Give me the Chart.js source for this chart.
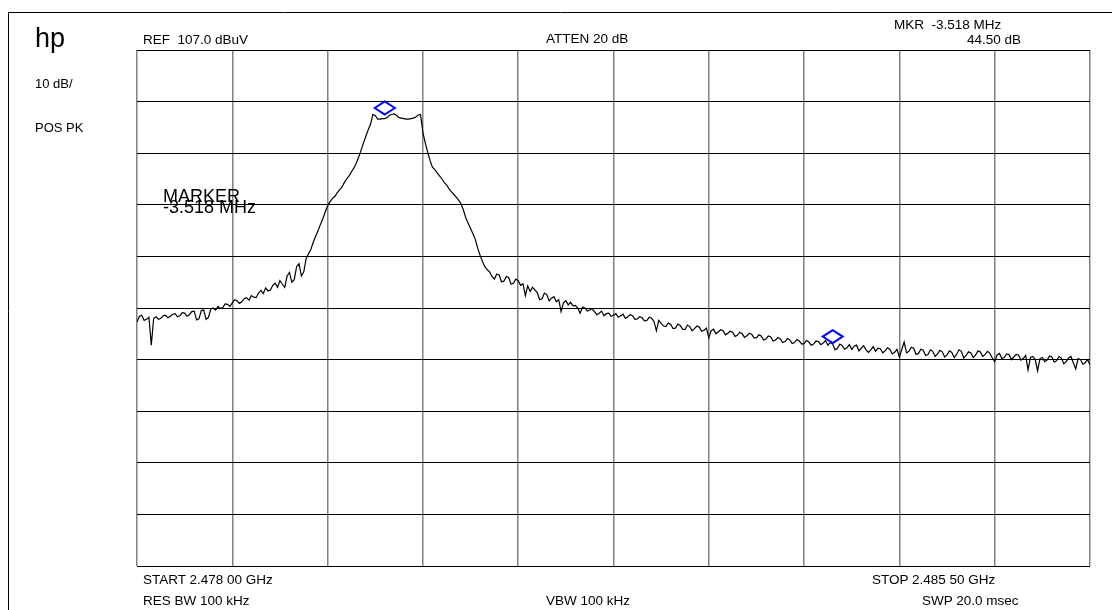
<!DOCTYPE html>
<html>
<head>
<meta charset="utf-8">
<script src="https://cdn.jsdelivr.net/npm/chart.js@4.4.1/dist/chart.umd.min.js"></script>
<style>
    body { margin: 0; background: #fff; }
    #wrap { position: relative; width: 1112px; height: 610px; overflow: hidden; }
    #wrap canvas { position: absolute; left: 0; top: 0; }
    .lbl { position: absolute; font-family: "Liberation Sans", Arial, sans-serif; color: #000; white-space: pre; line-height: 1; }
</style>
</head>
<body>
<div id="wrap">
    <canvas id="spectrum" width="1112" height="610"></canvas>
</div>
<script>
// sweep: 401 trace points from START to STOP, levels in dBuV
const sweepLabels = ['START 2.478 00 GHz', 'STOP 2.485 50 GHz'];
const traceDbuV = [
    // div 1
    54.3, 55.4, 55.6, 54.6, 54.8, 55.2, 49.8, 55.0, 55.3, 54.8,
    55.0, 55.5, 55.6, 55.1, 55.4, 55.8, 55.9, 55.3, 55.5, 56.1,
    56.0, 55.4, 55.7, 56.3, 56.4, 54.7, 54.9, 56.5, 56.6, 54.8,
    55.2, 56.8, 57.0, 56.6, 57.3, 56.9, 57.1, 57.8, 57.7, 57.3,
    // div 2
    58.0, 58.6, 58.4, 57.9, 58.2, 58.8, 59.0, 58.5, 59.4, 59.1,
    59.0, 59.9, 60.4, 59.8, 60.9, 60.3, 60.5, 61.4, 61.8, 61.0,
    62.3, 61.6, 61.0, 63.2, 63.9, 62.0, 62.5, 65.0, 65.6, 63.2,
    64.0, 66.6, 67.5, 68.4, 69.8, 70.9, 72.0, 73.2, 74.3, 75.6,
    // div 3
    76.8, 77.6, 78.2, 78.6, 79.3, 79.9, 80.4, 81.3, 82.0, 82.6,
    83.4, 84.1, 85.0, 86.2, 87.5, 88.9, 90.2, 91.5, 92.6, 94.5,
    94.3, 93.6, 93.6, 93.7, 93.7, 93.9, 94.4, 94.5, 94.6, 94.3,
    93.9, 93.8, 93.7, 93.6, 93.6, 93.7, 93.8, 94.0, 94.4, 94.5,
    // div 4
    91.0, 89.0, 87.2, 85.6, 84.3, 83.8, 83.2, 82.6, 82.0, 81.3,
    80.8, 80.1, 79.5, 79.0, 78.5, 77.9, 77.2, 76.0, 74.5, 73.4,
    72.4, 71.4, 70.3, 68.6, 67.2, 66.0, 65.0, 64.4, 64.0, 63.1,
    62.6, 63.6, 63.4, 62.1, 62.2, 63.1, 62.9, 61.6, 61.8, 62.6,
    // div 5
    62.3, 61.4, 61.7, 59.4, 61.3, 60.2, 61.0, 60.5, 60.0, 58.6,
    58.8, 59.9, 59.6, 58.4, 58.9, 59.2, 58.2, 58.6, 56.3, 58.0,
    58.4, 57.6, 58.1, 57.4, 57.5, 57.0, 56.0, 57.2, 57.0, 56.4,
    56.6, 56.9, 56.3, 55.7, 56.0, 56.4, 55.5, 55.9, 56.0, 55.4,
    // div 6
    55.6, 55.9, 55.2, 55.5, 55.8, 55.0, 55.3, 55.7, 55.5, 54.8,
    54.9, 55.3, 55.1, 54.5, 54.6, 55.2, 55.0, 54.4, 52.6, 54.6,
    54.0, 53.5, 53.4, 54.1, 53.8, 53.0, 53.1, 53.9, 53.6, 52.9,
    52.8, 53.7, 53.4, 52.6, 53.0, 53.5, 53.3, 52.5, 52.7, 53.1,
    // div 7
    51.2, 52.6, 52.9, 52.0, 52.4, 52.8, 52.6, 51.8, 52.1, 52.5,
    52.3, 51.5, 51.7, 52.3, 52.0, 51.3, 51.6, 52.1, 51.9, 51.2,
    51.2, 51.8, 51.6, 50.8, 51.0, 51.6, 51.4, 50.6, 50.8, 51.3,
    51.0, 50.3, 50.5, 51.1, 50.8, 50.1, 50.3, 50.9, 50.6, 50.0,
    // div 8
    50.1, 50.7, 50.4, 49.8, 50.0, 50.6, 50.5, 49.9, 50.2, 50.7,
    49.8, 50.3, 50.0, 48.9, 49.2, 50.0, 49.7, 49.0, 49.3, 49.9,
    49.0, 49.6, 49.8, 48.7, 49.2, 49.7, 48.9, 48.4, 48.9, 49.5,
    48.6, 49.2, 49.1, 48.3, 48.7, 49.3, 49.0, 48.1, 48.4, 49.0,
    // div 9
    47.5, 49.0, 50.4, 48.3, 48.6, 49.4, 49.2, 48.0, 48.2, 49.0,
    48.8, 47.8, 48.0, 48.9, 48.6, 47.6, 48.1, 48.8, 48.5, 47.5,
    47.9, 48.7, 48.4, 47.4, 48.0, 48.9, 48.6, 47.3, 47.8, 48.5,
    48.3, 47.4, 47.9, 48.7, 48.5, 47.6, 48.0, 48.6, 48.2, 47.3,
    // div 10
    46.6, 47.9, 48.2, 47.2, 47.4, 48.1, 48.0, 47.0, 47.5, 48.0,
    47.9, 46.9, 47.2, 47.8, 45.0, 47.4, 47.6, 47.0, 44.8, 47.2,
    47.4, 46.6, 46.9, 47.7, 47.5, 46.5, 46.8, 47.6, 47.3, 46.2,
    46.6, 47.3, 47.6, 46.4, 45.2, 47.2, 47.0, 46.1, 46.4, 47.0,
    46.0
];

// markers: trace point index and level
const markerIndex = [104, 292];
const markerDbuV = [94.5, 50.2];

// 10 dB/div from REF 107.0 dBuV
const levelGrid = [7, 17, 27, 37, 47, 57, 67, 77, 87, 97, 107];
const sweepGrid = [0, 40, 80, 120, 160, 200, 240, 280, 320, 360, 400];

// annotation texts: [text, left, top, size]
const annotations = [
    ['hp', 35, 25, 27],
    ['10 dB/', 35, 76.5, 13],
    ['POS PK', 35, 120.5, 13],
    ['REF  107.0 dBuV', 143, 32.5, 13.5],
    ['ATTEN 20 dB', 546, 31.5, 13.5],
    ['MKR  -3.518 MHz', 894, 17.5, 13.5],
    ['MARKER', 163, 187, 18],
    ['-3.518 MHz', 163, 198, 18],
    [sweepLabels[0], 143, 572.5, 13.5],
    [sweepLabels[1], 872, 572.5, 13.5],
    ['RES BW 100 kHz', 143, 593.5, 13.5],
    ['VBW 100 kHz', 546, 593.5, 13.5],
    ['SWP 20.0 msec', 922, 593.5, 13.5]
];
const rightAnnotations = [
    ['44.50 dB', 1021, 32.5, 13.5]
];

function addLabels() {
    const wrap = document.getElementById('wrap');
    annotations.forEach(([text, x, y, size]) => {
        const el = document.createElement('div');
        el.className = 'lbl';
        el.textContent = text;
        el.style.left = x + 'px';
        el.style.top = y + 'px';
        el.style.fontSize = size + 'px';
        wrap.appendChild(el);
    });
    rightAnnotations.forEach(([text, x, y, size]) => {
        const el = document.createElement('div');
        el.className = 'lbl';
        el.textContent = text;
        el.style.right = (1112 - x) + 'px';
        el.style.top = y + 'px';
        el.style.fontSize = size + 'px';
        wrap.appendChild(el);
    });
}

// outer frame of the plotter page
const framePlugin = {
    id: 'frame',
    beforeDraw(chart) {
        const ctx = chart.ctx;
        ctx.save();
        ctx.strokeStyle = '#000';
        ctx.lineWidth = 1;
        ctx.beginPath();
        ctx.moveTo(8.5, 610);
        ctx.lineTo(8.5, 12.5);
        ctx.lineTo(1112, 12.5);
        ctx.stroke();
        ctx.restore();
    }
};

// blue diamonds sitting on the trace
const markerPlugin = {
    id: 'markers',
    afterDatasetsDraw(chart) {
        const { ctx, scales: { x, y } } = chart;
        ctx.save();
        ctx.strokeStyle = '#0000ff';
        ctx.lineWidth = 2;
        markerIndex.forEach((idx, k) => {
            const px = x.getPixelForValue(idx);
            const py = y.getPixelForValue(markerDbuV[k]);
            ctx.beginPath();
            ctx.moveTo(px, py);
            ctx.lineTo(px + 10, py - 6.5);
            ctx.lineTo(px, py - 13);
            ctx.lineTo(px - 10, py - 6.5);
            ctx.closePath();
            ctx.stroke();
        });
        ctx.restore();
    }
};

function initChart() {
    const ctx = document.getElementById('spectrum').getContext('2d');
    new Chart(ctx, {
        type: 'line',
        data: {
            datasets: [{
                data: traceDbuV.map((v, i) => ({ x: i, y: v })),
                borderColor: '#000',
                borderWidth: 1.2,
                pointRadius: 0,
                tension: 0,
                fill: false
            }]
        },
        options: {
            responsive: false,
            animation: false,
            layout: { padding: { left: 137, top: 50, right: 22, bottom: 44 } },
            plugins: { legend: { display: false }, tooltip: { enabled: false } },
            scales: {
                x: {
                    type: 'linear',
                    min: 0,
                    max: 400,
                    afterBuildTicks: (scale) => { scale.ticks = sweepGrid.map(v => ({ value: v })); },
                    ticks: { display: false },
                    grid: { color: '#808080', lineWidth: 1.5, drawTicks: false },
                    border: { display: false }
                },
                y: {
                    min: 7,
                    max: 107,
                    afterBuildTicks: (scale) => { scale.ticks = levelGrid.map(v => ({ value: v })); },
                    ticks: { display: false },
                    grid: { color: '#000', lineWidth: 1, drawTicks: false },
                    border: { display: false }
                }
            }
        },
        plugins: [framePlugin, markerPlugin]
    });
}

document.addEventListener('DOMContentLoaded', () => {
    addLabels();
    initChart();
});
</script>
</body>
</html>
